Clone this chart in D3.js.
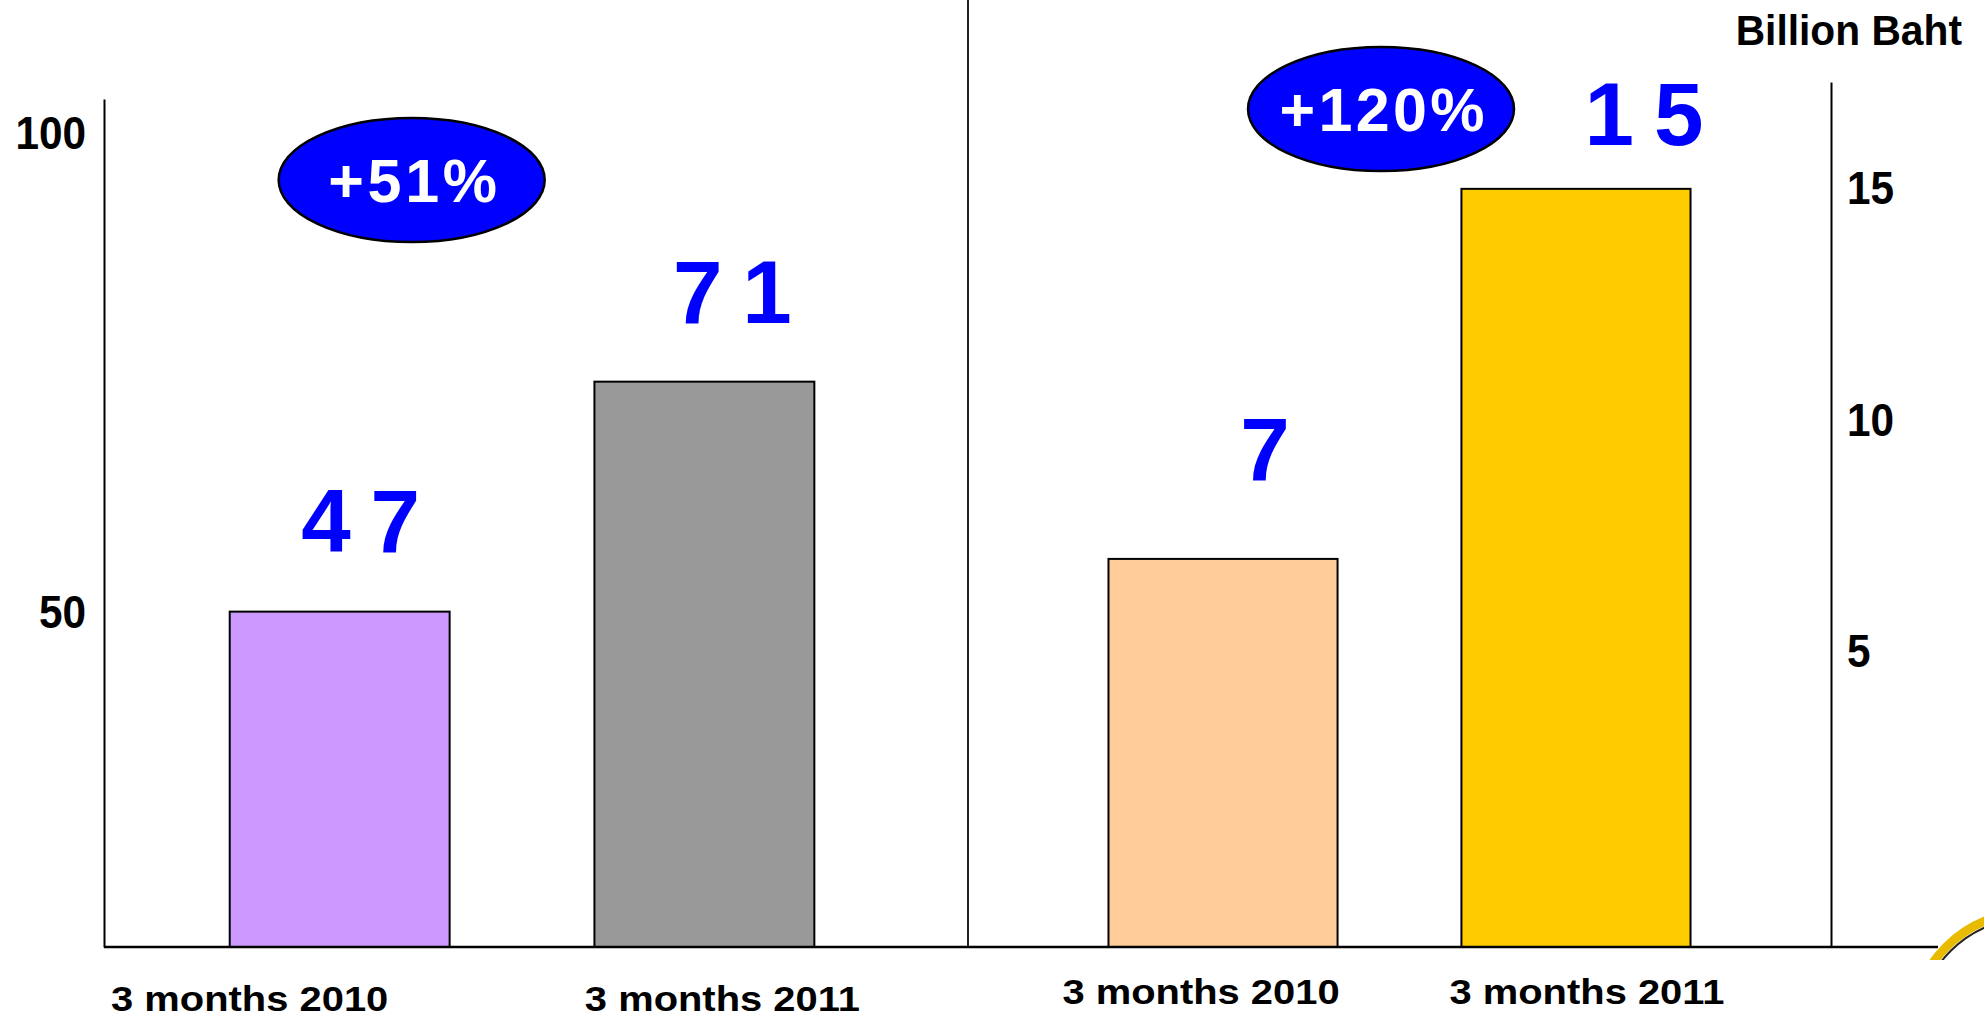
<!DOCTYPE html>
<html>
<head>
<meta charset="utf-8">
<script src="https://cdn.jsdelivr.net/npm/d3@7"></script>
<style>
  body { margin: 0; background: #fff; }
  svg { display: block; }
  text { font-family: "Liberation Sans", Arial, sans-serif; font-weight: bold; }
</style>
</head>
<body>
<div id="chart"></div>
<script>
// values
var categories = ["3 months 2010", "3 months 2011"];
var leftValues = [47, 71];
var rightValues = [7, 15];
var leftTicks = [50, 100];
var rightTicks = [5, 10, 15];
var growthLabels = ["+51%", "+120%"];
var unitLabel = "Billion Baht";
var leftColors = ["#cc99ff", "#999999"];
var rightColors = ["#ffcc99", "#ffcc00"];

w = 1984;
h = 1019;
var base = 947;

// the two panels do not share an axis, each gets its own scales
var panels = [
  {
    values: leftValues, colors: leftColors,
    x: d3.scaleBand().domain(categories).range([104, 968])
        .paddingInner(0.397).paddingOuter(0.383).align(0.45),
    y: d3.scaleLinear().domain([12, 100.5]).range([base, 99]),
    valueDx: [21, 28], valueDy: [-60, -59],
    labelDx: [-90, 18], labelY: 1011,
    badge: { dx: 72, cy: 180 }
  },
  {
    values: rightValues, colors: rightColors,
    x: d3.scaleBand().domain(categories).range([968, 1831])
        .paddingInner(0.351).paddingOuter(0.398).align(0.5),
    y: d3.scaleLinear().domain([-1.39, 17.31]).range([base, 82]),
    valueDx: [42, 68], valueDy: [-79, -44],
    labelDx: [-22, 11], labelY: 1004,
    badge: { dx: 158, cy: 109 }
  }
];

svg = d3.select("#chart")
        .append("svg")
        .attr("width", w)
        .attr("height", h);

// the slide's text is drawn a bit wider or narrower than the font
function stretch(sel, k, how) {
  sel.each(function() {
    var len = this.getComputedTextLength();
    d3.select(this)
      .attr("textLength", len * k)
      .attr("lengthAdjust", how || "spacingAndGlyphs");
  });
}

///////// BARS + LABELS /////////
panels.forEach(function(p, pi) {
  var g = svg.append("g");

  g.selectAll("rect")
    .data(p.values)
    .enter()
    .append("rect")
    .attr("x", function(d, i) { return p.x(categories[i]); })
    .attr("y", function(d) { return p.y(d); })
    .attr("width", p.x.bandwidth())
    .attr("height", function(d) { return base - p.y(d); })
    .attr("fill", function(d, i) { return p.colors[i]; })
    .attr("stroke", "#000")
    .attr("stroke-width", 2);

  g.selectAll("text.value")
    .data(p.values)
    .enter()
    .append("text")
    .attr("class", "value")
    .attr("x", function(d, i) { return p.x(categories[i]) + p.x.bandwidth() / 2 + p.valueDx[i]; })
    .attr("y", function(d, i) { return p.y(d) + p.valueDy[i]; })
    .attr("text-anchor", "middle")
    .attr("font-size", "89px")
    .attr("fill", "#0000ff")
    .text(function(d) { return d; })
    .call(stretch, 1.2, "spacing");

  g.selectAll("text.cat")
    .data(categories)
    .enter()
    .append("text")
    .attr("class", "cat")
    .attr("x", function(d, i) { return p.x(d) + p.x.bandwidth() / 2 + p.labelDx[i]; })
    .attr("y", p.labelY)
    .attr("text-anchor", "middle")
    .attr("font-size", "35px")
    .attr("fill", "#000")
    .text(function(d) { return d; })
    .call(stretch, 1.14);

  // growth badge
  var bx = p.x(categories[0]) + p.x.bandwidth() / 2 + p.badge.dx;
  g.append("ellipse")
    .attr("cx", bx)
    .attr("cy", p.badge.cy)
    .attr("rx", 133)
    .attr("ry", 62)
    .attr("fill", "#0000ff")
    .attr("stroke", "#000")
    .attr("stroke-width", 2.5);
  g.append("text")
    .attr("x", bx + 1)
    .attr("y", p.badge.cy + 22)
    .attr("text-anchor", "middle")
    .attr("font-size", "61px")
    .attr("fill", "#fff")
    .text(growthLabels[pi])
    .call(stretch, 1.07, "spacing");
});

///////// AXES /////////
var yaxisL = d3.axisLeft(panels[0].y)
                .tickValues(leftTicks)
                .tickSize(0)
                .tickPadding(18);
var yaxisR = d3.axisRight(panels[1].y)
                .tickValues(rightTicks)
                .tickSize(0)
                .tickPadding(16);

var gl = svg.append("g")
    .attr("class", "axis")
    .attr("transform", "translate(104,0)")
    .call(yaxisL);

var gr = svg.append("g")
    .attr("class", "axis")
    .attr("transform", "translate(1831,0)")
    .call(yaxisR);

svg.selectAll(".axis path").attr("stroke", "#000").attr("stroke-width", 2);
svg.selectAll(".axis text")
    .attr("fill", "#000")
    .attr("font-size", "47px")
    .attr("font-family", "'Liberation Sans', Arial, sans-serif")
    .attr("font-weight", "bold")
    .call(stretch, 0.9);
gl.selectAll("text").attr("dy", "0.95em");

// divider between the panels and the shared baseline
svg.append("line")
    .attr("x1", 968).attr("x2", 968)
    .attr("y1", 0).attr("y2", base)
    .attr("stroke", "#222")
    .attr("stroke-width", 2);

svg.append("line")
    .attr("x1", 104).attr("x2", 1938)
    .attr("y1", base).attr("y2", base)
    .attr("stroke", "#000")
    .attr("stroke-width", 2.5);

svg.append("text")
    .attr("x", 1962)
    .attr("y", 45)
    .attr("text-anchor", "end")
    .attr("font-size", "42px")
    .attr("fill", "#000")
    .text(unitLabel)
    .call(stretch, 0.97);

// bit of a logo peeking in at the bottom right corner
svg.append("clipPath").attr("id", "logoclip")
    .append("rect").attr("x", 1925).attr("y", 900).attr("width", 59).attr("height", 60);
var logo = svg.append("g").attr("clip-path", "url(#logoclip)");
logo.append("circle")
    .attr("cx", 2030).attr("cy", 1030).attr("r", 118)
    .attr("fill", "none").attr("stroke", "#e8bb00").attr("stroke-width", 9);
logo.append("circle")
    .attr("cx", 2030).attr("cy", 1030).attr("r", 112)
    .attr("fill", "none").attr("stroke", "#222").attr("stroke-width", 2);
</script>
</body>
</html>
